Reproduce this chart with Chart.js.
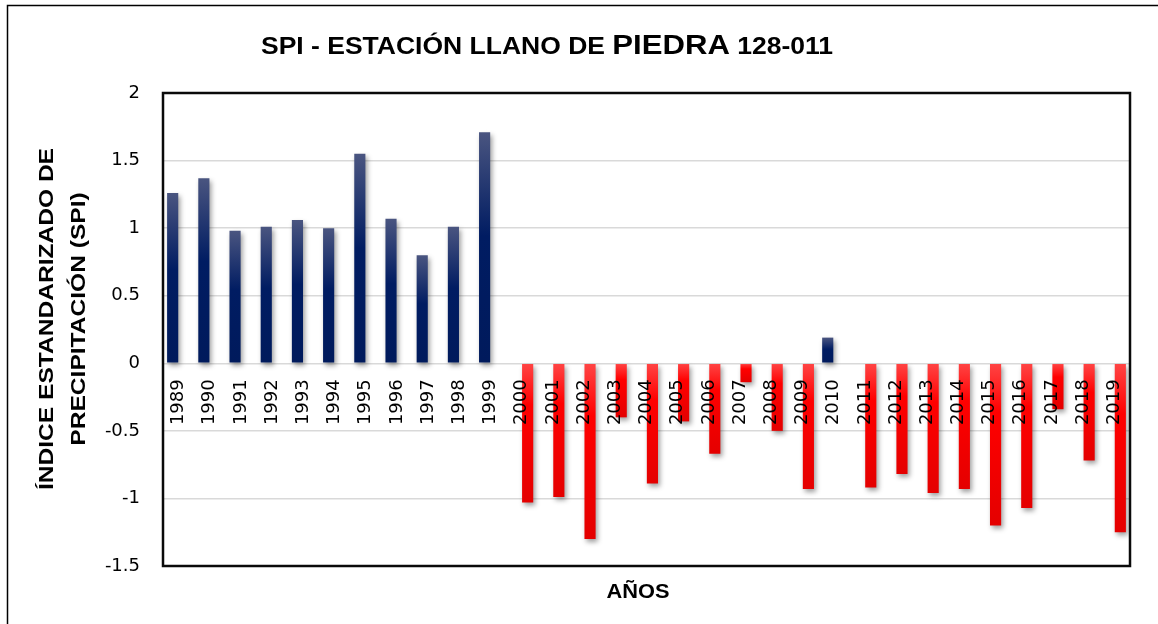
<!DOCTYPE html>
<html>
<head>
<meta charset="utf-8">
<script src="https://cdn.jsdelivr.net/npm/chart.js@4.4.1/dist/chart.umd.min.js"></script>
<style>
html,body{margin:0;padding:0;background:#ffffff;}
#wrap{width:1158px;height:624px;position:relative;}
</style>
</head>
<body>
<div id="wrap"><canvas id="c" width="1158" height="624"></canvas></div>
<script>
// ---- DATA ----
const years = ['1989','1990','1991','1992','1993','1994','1995','1996','1997','1998','1999',
               '2000','2001','2002','2003','2004','2005','2006','2007','2008','2009',
               '2010','2011','2012','2013','2014','2015','2016','2017','2018','2019'];
// SPI values >= 0 (wet years)
const spiPositive = [1.26, 1.37, 0.98, 1.01, 1.06, 1.00, 1.55, 1.07, 0.80, 1.01, 1.71,
                     null, null, null, null, null, null, null, null, null, null,
                     0.19, null, null, null, null, null, null, null, null, null];
// SPI values < 0 (dry years)
const spiNegative = [null, null, null, null, null, null, null, null, null, null, null,
                     -1.03, -0.99, -1.30, -0.40, -0.89, -0.43, -0.67, -0.14, -0.50, -0.93,
                     null, -0.92, -0.82, -0.96, -0.93, -1.20, -1.07, -0.34, -0.72, -1.25];
const yTickValues = [-1.5, -1, -0.5, 0, 0.5, 1, 1.5, 2];
const yTickLabels = ['-1.5', '-1', '-0.5', '0', '0.5', '1', '1.5', '2'];
const chartTitleParts = ['SPI - ESTACIÓN LLANO DE ', 'PIEDRA', ' 128-011'];
const yAxisTitleLines = ['ÍNDICE ESTANDARIZADO DE', 'PRECIPITACIÓN (SPI)'];
const xAxisTitle = 'AÑOS';

// ---- STYLE HELPERS ----
const blueStops = [[0, '#4a5580'], [0.45, '#001c62'], [1, '#001a5c']];
const redStops  = [[0, '#ff4545'], [0.3, '#ff0000'], [1, '#e40000']];

function barGradient(context, stops) {
  const chart = context.chart;
  const yScale = chart.scales.y;
  const v = context.raw;
  if (!chart.chartArea || !yScale || v === null || v === undefined) return stops[1][1];
  const p1 = yScale.getPixelForValue(Math.max(v, 0));
  const p2 = yScale.getPixelForValue(Math.min(v, 0));
  if (!isFinite(p1) || !isFinite(p2) || p1 === p2) return stops[1][1];
  const g = chart.ctx.createLinearGradient(0, p1, 0, p2);
  stops.forEach(s => g.addColorStop(s[0], s[1]));
  return g;
}

function drawStretched(ctx, text, font, cx, cy, targetWidth) {
  ctx.save();
  ctx.font = font;
  const w = ctx.measureText(text).width;
  const sx = targetWidth / w;
  ctx.translate(cx, cy);
  ctx.scale(sx, 1);
  ctx.textAlign = 'center';
  ctx.textBaseline = 'middle';
  ctx.fillText(text, 0, 0);
  ctx.restore();
}

const decorPlugin = {
  id: 'decor',
  beforeDatasetsDraw(chart) {
    const c = chart.ctx;
    c.save();
    c.shadowColor = 'rgba(0,0,0,0.38)';
    c.shadowBlur = 5;
    c.shadowOffsetX = 2;
    c.shadowOffsetY = 3;
  },
  afterDatasetsDraw(chart) {
    chart.ctx.restore();
  },
  afterDraw(chart) {
    const c = chart.ctx;
    const a = chart.chartArea;
    c.save();
    // outer frame
    c.strokeStyle = '#000';
    c.lineWidth = 1.5;
    c.strokeRect(7.5, 5.5, 1170, 640);
    // plot area border
    c.lineWidth = 2.5;
    c.strokeStyle = '#0a0a0a';
    c.strokeRect(a.left, a.top, a.right - a.left, a.bottom - a.top);

    c.fillStyle = '#000';
    // main title (mixed sizes)
    const fonts = ['bold 23px "Liberation Sans", Arial, sans-serif',
                   'bold 27px "Liberation Sans", Arial, sans-serif',
                   'bold 23px "Liberation Sans", Arial, sans-serif'];
    let total = 0;
    const widths = chartTitleParts.map((t, i) => { c.font = fonts[i]; const w = c.measureText(t).width; total += w; return w; });
    const startX = 261, endX = 833, baseY = 54;
    const sx = (endX - startX) / total;
    c.save();
    c.translate(startX, baseY);
    c.scale(sx, 1);
    c.textAlign = 'left';
    c.textBaseline = 'alphabetic';
    let x = 0;
    chartTitleParts.forEach((t, i) => { c.font = fonts[i]; c.fillText(t, x, 0); x += widths[i]; });
    c.restore();

    // y axis title (rotated, two lines)
    c.save();
    const yFont = 'bold 20px "Liberation Sans", Arial, sans-serif';
    c.font = yFont;
    const w1 = c.measureText(yAxisTitleLines[0]).width;
    const ysx = 342 / w1;
    const cy = 319;
    [[yAxisTitleLines[0], 47], [yAxisTitleLines[1], 79]].forEach(([t, lx]) => {
      c.save();
      c.translate(lx, cy);
      c.rotate(-Math.PI / 2);
      c.scale(ysx, 1);
      c.font = yFont;
      c.textAlign = 'center';
      c.textBaseline = 'middle';
      c.fillText(t, 0, 0);
      c.restore();
    });
    c.restore();

    // x axis title
    drawStretched(c, xAxisTitle, 'bold 21px "Liberation Sans", Arial, sans-serif', 638, 592, 63);
    c.restore();
  }
};

new Chart(document.getElementById('c'), {
  type: 'bar',
  data: {
    labels: years,
    datasets: [
      {
        label: 'SPI positivo',
        data: spiPositive,
        backgroundColor: ctx => barGradient(ctx, blueStops),
        borderWidth: 0,
        categoryPercentage: 0.76,
        barPercentage: 0.94
      },
      {
        label: 'SPI negativo',
        data: spiNegative,
        backgroundColor: ctx => barGradient(ctx, redStops),
        borderWidth: 0,
        categoryPercentage: 0.76,
        barPercentage: 0.94
      }
    ]
  },
  options: {
    responsive: false,
    animation: false,
    events: [],
    layout: { padding: { left: 0, top: 93, right: 28, bottom: 58 } },
    plugins: {
      legend: { display: false },
      title: { display: false },
      tooltip: { enabled: false }
    },
    scales: {
      x: {
        type: 'category',
        position: { y: 0 },
        offset: true,
        grid: { display: false, drawTicks: false },
        border: { display: false },
        ticks: {
          z: 1,
          autoSkip: false,
          minRotation: 90,
          maxRotation: 90,
          padding: 16,
          color: '#000',
          font: { family: '"DejaVu Sans", sans-serif', size: 18 }
        }
      },
      y: {
        type: 'linear',
        position: 'left',
        min: -1.5,
        max: 2,
        afterBuildTicks(scale) { scale.ticks = yTickValues.map(v => ({ value: v })); },
        afterFit(scale) { scale.width = 163; },
        grid: { color: '#d9d9d9', lineWidth: 1.5, drawTicks: false },
        border: { display: false },
        ticks: {
          padding: 23,
          color: '#000',
          font: { family: '"DejaVu Sans", sans-serif', size: 18 },
          callback: (value) => {
            const i = yTickValues.indexOf(value);
            return i >= 0 ? yTickLabels[i] : '';
          }
        }
      }
    }
  },
  plugins: [decorPlugin]
});
</script>
</body>
</html>
